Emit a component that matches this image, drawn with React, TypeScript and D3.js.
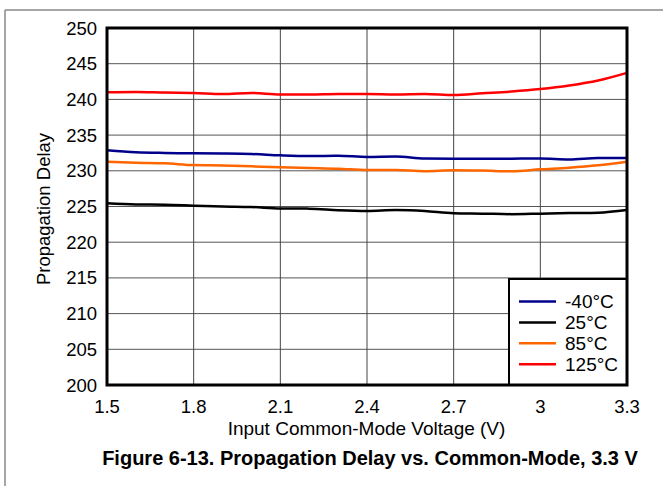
import React from "react";
import * as d3 from "d3";

const xValues = [1.5, 1.6, 1.7, 1.8, 1.9, 2.0, 2.1, 2.2, 2.3, 2.4, 2.5, 2.6, 2.7, 2.8, 2.9, 3.0, 3.1, 3.2, 3.3];
const minus40 = [232.87, 232.6, 232.5, 232.45, 232.42, 232.35, 232.17, 232.07, 232.1, 231.95, 232.0, 231.72, 231.7, 231.7, 231.7, 231.72, 231.6, 231.8, 231.8];
const t25 = [225.45, 225.28, 225.25, 225.12, 225.0, 224.93, 224.72, 224.7, 224.48, 224.37, 224.5, 224.37, 224.05, 224.0, 223.93, 224.0, 224.08, 224.13, 224.5];
const t85 = [231.27, 231.13, 231.05, 230.8, 230.75, 230.63, 230.5, 230.4, 230.3, 230.12, 230.1, 229.95, 230.07, 230.03, 229.93, 230.2, 230.43, 230.77, 231.27];
const t125 = [241.0, 241.05, 240.95, 240.9, 240.75, 240.9, 240.68, 240.68, 240.75, 240.75, 240.7, 240.75, 240.6, 240.85, 241.1, 241.45, 241.95, 242.65, 243.72];

const seriesNames = ["-40°C", "25°C", "85°C", "125°C"];
const seriesColors = ["#00008B", "#000000", "#FF6600", "#FF0000"];
const seriesData = [minus40, t25, t85, t125];

const xTicks = [1.5, 1.8, 2.1, 2.4, 2.7, 3.0, 3.3];
const xTickLabels = ["1.5", "1.8", "2.1", "2.4", "2.7", "3", "3.3"];
const yTicks = [200, 205, 210, 215, 220, 225, 230, 235, 240, 245, 250];

const FONT = "'Liberation Sans', Arial, sans-serif";

export default function App() {
  const W = 663, H = 486;
  const L = 107, R = 627, T = 28, B = 385;
  const x = d3.scaleLinear().domain([1.5, 3.3]).range([L, R]);
  const y = d3.scaleLinear().domain([200, 250]).range([B, T]);
  const line = d3.line<number>().x((_, i) => x(xValues[i])).y((d) => y(d)).curve(d3.curveMonotoneX);

  const legX = 509, legY = 279, legW = R - legX, legH = B - legY;

  return (
    <svg width={W} height={H} style={{ position: "absolute", left: 0, top: 0 }} fontFamily={FONT}>
      <rect x={0} y={0} width={W} height={H} fill="#fff" />
      <line x1={5} x2={W} y1={10} y2={10} stroke="#888" strokeWidth={1.5} />
      <line x1={5} x2={5} y1={10} y2={H} stroke="#888" strokeWidth={1.5} />

      {yTicks.slice(1, -1).map((t) => (
        <line key={"gy" + t} x1={L} x2={R} y1={y(t)} y2={y(t)} stroke="#555" strokeWidth={1} />
      ))}
      {xTicks.slice(1, -1).map((t) => (
        <line key={"gx" + t} x1={x(t)} x2={x(t)} y1={T} y2={B} stroke="#444" strokeWidth={1} />
      ))}

      {seriesData.map((d, i) => (
        <path key={"s" + i} d={line(d) || ""} fill="none" stroke={seriesColors[i]} strokeWidth={2.5} />
      ))}

      <rect x={legX} y={legY} width={legW} height={legH} fill="#fff" stroke="#000" strokeWidth={2} />
      {seriesNames.map((n, i) => {
        const cy = 301.5 + i * 20.9;
        return (
          <g key={"lg" + i}>
            <line x1={519} x2={556} y1={cy} y2={cy} stroke={seriesColors[i]} strokeWidth={2.5} />
            <text x={565} y={cy + 6.5} fontSize={19} fill="#000">{n}</text>
          </g>
        );
      })}

      <rect x={L} y={T} width={R - L} height={B - T} fill="none" stroke="#000" strokeWidth={3} />

      {yTicks.map((t) => (
        <text key={"ty" + t} x={97} y={y(t) + 6.5} fontSize={18.5} textAnchor="end" fill="#000">{t}</text>
      ))}
      {xTicks.map((t, i) => (
        <text key={"tx" + t} x={x(t)} y={413} fontSize={18.5} textAnchor="middle" fill="#000">{xTickLabels[i]}</text>
      ))}

      <text x={(L + R) / 2 - 0.5} y={435} fontSize={19} textAnchor="middle" fill="#000">Input Common-Mode Voltage (V)</text>
      <text transform="translate(50, 209) rotate(-90)" fontSize={18.5} textAnchor="middle" fill="#000">Propagation Delay</text>
      <text x={370} y={465} fontSize={20} fontWeight="bold" textAnchor="middle" fill="#000">Figure 6-13. Propagation Delay vs. Common-Mode, 3.3 V</text>
    </svg>
  );
}
